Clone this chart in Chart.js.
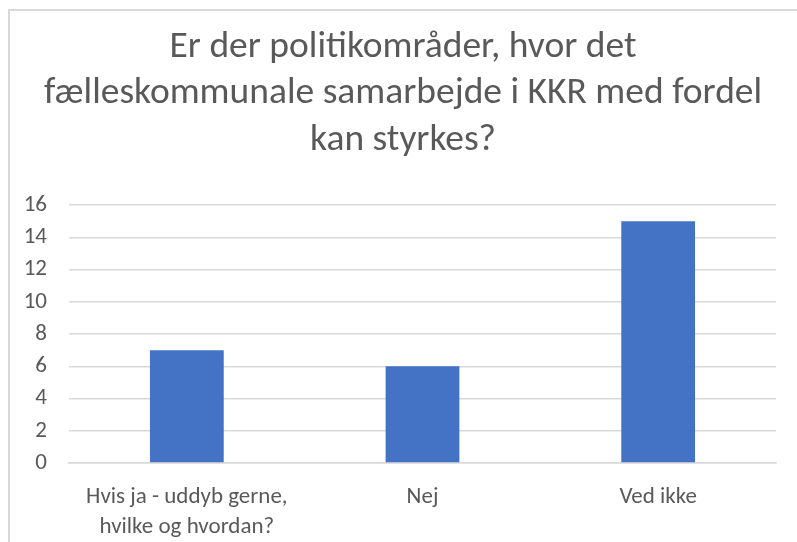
<!DOCTYPE html>
<html>
<head>
<meta charset="utf-8">
<script src="https://cdn.jsdelivr.net/npm/chart.js@4"></script>
<style>
  body { margin: 0; background: #fff; overflow: hidden; }
  #wrap { position: relative; width: 797px; height: 542px; }
  #ramme {
    position: absolute; left: 8px; top: 9px; width: 900px; height: 700px;
    border: 2px solid #d9d9d9; pointer-events: none;
  }
</style>
</head>
<body>
<div id="wrap">
  <canvas id="myChart" width="797" height="542"></canvas>
  <div id="ramme"></div>
</div>
<script>
// Data
const titel = [
  "Er der politikområder, hvor det",
  "fælleskommunale samarbejde i KKR med fordel",
  "kan styrkes?",
];
const kategorier = [
  ["Hvis ja - uddyb gerne,", "hvilke og hvordan?"],
  "Nej",
  "Ved ikke",
];
const svar = [7, 6, 15];
const yMin = 0;
const yMax = 16;
const yStep = 2;

const skrift = "Carlito, Calibri, 'Liberation Sans Narrow', sans-serif";
const graa = "#595959";
const gitter = "#d9d9d9";

// Excel centrerer titlen over hele rammen, ikke kun til højre marg
const titelFlyt = {
  id: "titelFlyt",
  afterLayout(chart) {
    if (chart.titleBlock) chart.titleBlock.left = 30;
  },
};

const ctx = document.querySelector("#myChart").getContext("2d");
const grafico = new Chart(ctx, {
  type: "bar",
  data: {
    labels: kategorier,
    datasets: [
      {
        data: svar,
        backgroundColor: "#4472C4",
        categoryPercentage: 1,
        barPercentage: 0.313,
      },
    ],
  },
  options: {
    responsive: false,
    animation: false,
    layout: { padding: { left: 0, right: 21, top: 0, bottom: 0 } },
    plugins: {
      legend: { display: false },
      tooltip: { enabled: false },
      title: {
        display: true,
        text: titel,
        color: graa,
        font: { family: skrift, size: 37.5, weight: "normal", lineHeight: 1.24 },
        padding: { top: 24, bottom: 41.5 },
      },
    },
    scales: {
      x: {
        grid: { display: false, drawTicks: false },
        border: { display: true, color: gitter, width: 1.5 },
        ticks: {
          color: graa,
          font: { family: skrift, size: 23, lineHeight: 1.3 },
          padding: 19,
          maxRotation: 0,
          autoSkip: false,
        },
        afterFit: (scale) => { scale.height = 79; },
      },
      y: {
        min: yMin,
        max: yMax,
        grid: { color: gitter, lineWidth: 1.5, drawTicks: false },
        border: { display: false },
        ticks: {
          stepSize: yStep,
          color: graa,
          font: { family: skrift, size: 23 },
          padding: 22,
        },
        afterFit: (scale) => { scale.width = 69; },
      },
    },
  },
  plugins: [titelFlyt],
});
</script>
</body>
</html>
